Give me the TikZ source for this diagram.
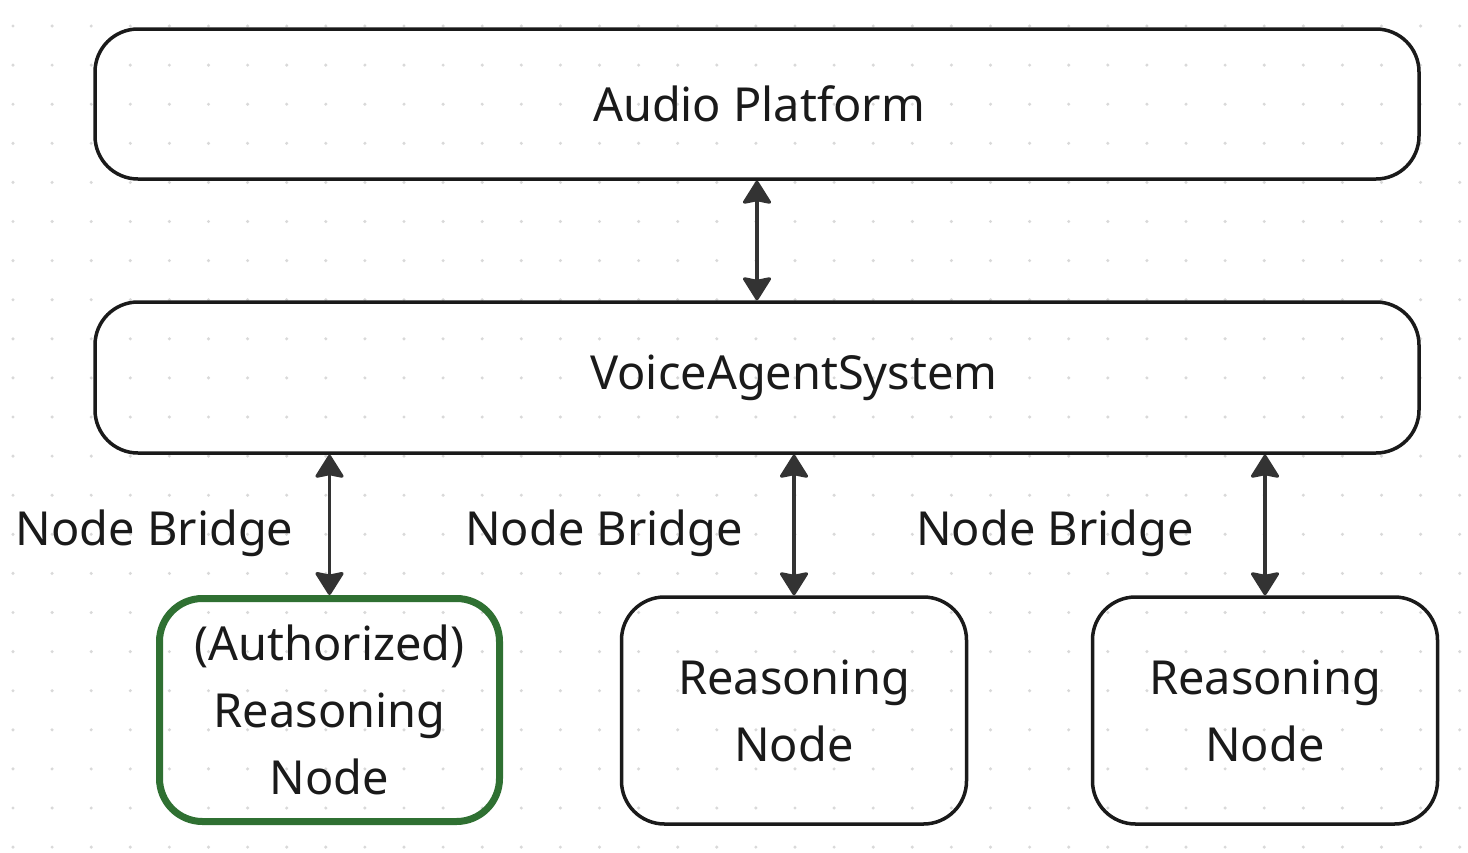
\documentclass[tikz,border=0pt]{standalone}
\usepackage{fontspec}
\setmainfont{Noto Sans}
\usetikzlibrary{arrows.meta}
\definecolor{inkc}{HTML}{1A1A1A}
\definecolor{arrc}{HTML}{333333}
\definecolor{dotc}{HTML}{D9D9D9}
\definecolor{greenc}{HTML}{2F7032}
\begin{document}
\begin{tikzpicture}[x=1pt,y=-1pt,
  box/.style={draw=inkc, line width=3.5pt, rounded corners=43pt, inner sep=0pt,
    align=center, text=inkc, font=\fontsize{46.9}{67}\selectfont},
  greenbox/.style={box, draw=greenc, line width=7pt},
  arr/.style={draw=arrc, line width=3.3pt,
    {Stealth[length=25pt,width=31pt,inset=3pt,round]}-{Stealth[length=25pt,width=31pt,inset=3pt,round]}},
  lbl/.style={text=inkc, font=\fontsize{46.9}{67}\selectfont, anchor=base, inner sep=0pt}]
\useasboundingbox (0,0) rectangle (1468,852);
\fill[white] (0,0) rectangle (1468,852);
\foreach \i in {0,...,37}{
  \foreach \j in {0,...,21}{
    \fill[dotc] ({13+39.1*\i},{26+39.1*\j}) circle (1.7);
  }
}
\node[box, minimum width=1324pt, minimum height=150pt] (audio) at (757,104) {\hspace*{4pt}\raisebox{-1.5pt}{Audio Platform}};
\node[box, minimum width=1324pt, minimum height=151pt] (vas) at (757,377.5) {\hspace*{74pt}\raisebox{-1.5pt}{VoiceAgentSystem}};
\node[greenbox, minimum width=340pt, minimum height=223pt] (n1) at (329.5,710) {(Authorized)\\Reasoning\\Node};
\node[box, minimum width=345pt, minimum height=227pt] (n2) at (794,710.5) {Reasoning\\Node};
\node[box, minimum width=345pt, minimum height=227pt] (n3) at (1265,710.5) {Reasoning\\Node};
\draw[arr] (audio.south) -- (vas.north);
\draw[arr] (n1.north |- vas.south) -- (n1.north);
\draw[arr] (n2.north |- vas.south) -- (n2.north);
\draw[arr] (n3.north |- vas.south) -- (n3.north);
\node[lbl] (b1) at (154.5,545) {Node Bridge};
\node[lbl] (b2) at (604,545) {Node Bridge};
\node[lbl] (b3) at (1055,545) {Node Bridge};
\end{tikzpicture}
\end{document}
